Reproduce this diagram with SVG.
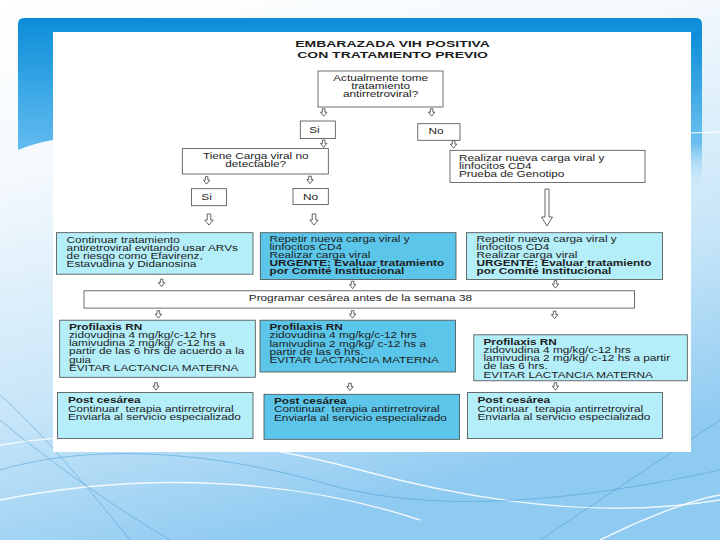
<svg xmlns="http://www.w3.org/2000/svg" width="720" height="540" viewBox="0 0 720 540">
<defs>
<linearGradient id="bg" x1="0" y1="0" x2="0.35" y2="1">
<stop offset="0" stop-color="#ffffff"/>
<stop offset="0.3" stop-color="#f4f9fd"/>
<stop offset="0.7" stop-color="#c6e5f8"/>
<stop offset="1" stop-color="#8fcaf1"/>
</linearGradient>
<linearGradient id="bl" x1="0" y1="0" x2="0" y2="1">
<stop offset="0" stop-color="#0c8dd8"/>
<stop offset="1" stop-color="#62bcf0"/>
</linearGradient>
<linearGradient id="br" x1="0" y1="0" x2="0" y2="1">
<stop offset="0" stop-color="#0c8dd8"/>
<stop offset="0.7" stop-color="#6cc0f0"/>
<stop offset="1" stop-color="#d6ecfa" stop-opacity="0"/>
</linearGradient>
<path id="sa" d="M-1.3,-3.8 h2.6 v3.4 h1.9 l-3.2,4 l-3.2,-4 h1.9 z"/>
<path id="ma" d="M-1.8,-5.5 h3.6 v6 h2.4 l-4.2,5 l-4.2,-5 h2.4 z"/>
</defs>
<style>
.t{font-family:"Liberation Sans",Arial,sans-serif;font-size:8.8px;fill:#1c1c1c}
.ti{font-size:9.5px;font-weight:bold}
.b{font-weight:bold}
.m{text-anchor:middle}
.box{stroke:#4a4a4a;stroke-width:0.8}
.w{fill:#ffffff}
.lc{fill:#b4eef9}
.dc{fill:#5cc6ea}
.ar{fill:#ffffff;stroke:#333333;stroke-width:0.75}
.cv{fill:none;stroke:#ffffff;stroke-width:1.4;opacity:0.85}
.cb{fill:none;stroke:#4a9fd6;stroke-width:0.9;opacity:0.6}
</style>
<g id="background">
<rect x="0" y="0" width="720" height="540" fill="url(#bg)"/>
<path class="cb" d="M0,395 C40,430 90,490 130,540"/>
<path class="cv" d="M0,445 C120,425 250,440 360,470 C470,500 600,520 720,500"/>
<path class="cb" d="M0,470 C100,440 230,455 330,485 C430,512 560,505 720,470"/>
<path class="cv" d="M0,500 C150,470 300,480 420,520"/>
<path class="cb" d="M540,540 C600,500 660,460 720,420"/>
<path class="cv" d="M600,540 C640,520 690,500 720,495"/>
<path class="cb" d="M0,420 C60,470 120,510 170,540"/>
<path d="M24,18 H696 Q702,18 702,24 V32 H53 V140 Q35,143 18,150 V24 Q18,18 24,18 Z" fill="url(#bl)"/>
<rect x="691" y="32" width="11" height="160" fill="url(#br)"/>
<line x1="690" y1="133" x2="720" y2="132" stroke="#ffffff" stroke-width="1"/>
<rect x="53" y="32" width="638" height="420" fill="#ffffff"/>
</g>
<g id="title">
<g transform="translate(392.6,0) scale(1.47,1)">
<text class="t ti m" x="0" y="47.4">EMBARAZADA VIH POSITIVA</text>
<text class="t ti m" x="0" y="58">CON TRATAMIENTO PREVIO</text>
</g>
</g>
<g id="connectors">
<use href="#sa" class="ar" x="323.7" y="112.6"/>
<use href="#sa" class="ar" x="431.6" y="112.6"/>
<use href="#sa" class="ar" x="323.7" y="143.8"/>
<use href="#sa" class="ar" x="453.6" y="144.5"/>
<use href="#sa" class="ar" x="206.6" y="180.5"/>
<use href="#sa" class="ar" x="310" y="180"/>
<use href="#ma" class="ar" x="209" y="219.5"/>
<use href="#ma" class="ar" x="314" y="219.5"/>
<path class="ar" d="M545,189 h4 v28 h3.5 l-5.5,9 l-5.5,-9 h3.5 z"/>
<use href="#sa" class="ar" x="161.6" y="283"/>
<use href="#sa" class="ar" x="352.6" y="285"/>
<use href="#sa" class="ar" x="555.5" y="284.5"/>
<use href="#sa" class="ar" x="158.4" y="314.5"/>
<use href="#sa" class="ar" x="352.6" y="314.5"/>
<use href="#sa" class="ar" x="554.6" y="315"/>
<use href="#sa" class="ar" x="156" y="386.5"/>
<use href="#sa" class="ar" x="350" y="387"/>
<use href="#sa" class="ar" x="555.5" y="386.5"/>
</g>
<g id="q1">
<rect class="box w" x="318" y="71" width="125" height="36"/>
<g transform="translate(380.6,0) scale(1.34,1)">
<text class="t m" x="0" y="81">Actualmente tome</text>
<text class="t m" x="0" y="89.3">tratamiento</text>
<text class="t m" x="0" y="97.5">antirretroviral?</text>
</g>
</g>
<g id="si1">
<rect class="box w" x="300.3" y="121" width="35" height="17.6"/>
<g transform="translate(314.5,0) scale(1.34,1)"><text class="t m" x="0" y="132.6">Si</text></g>
</g>
<g id="no1">
<rect class="box w" x="417.8" y="123.7" width="42.2" height="16.6"/>
<g transform="translate(436,0) scale(1.34,1)"><text class="t m" x="0" y="134.5">No</text></g>
</g>
<g id="q2">
<rect class="box w" x="182.3" y="148.6" width="146" height="25.4"/>
<g transform="translate(255.7,0) scale(1.34,1)">
<text class="t m" x="0" y="158.6">Tiene Carga viral no</text>
<text class="t m" x="0" y="166.9">detectable?</text>
</g>
</g>
<g id="genotipo">
<rect class="box w" x="450" y="150.3" width="195" height="32.2"/>
<g transform="translate(459,0) scale(1.34,1)">
<text class="t" x="0" y="160.6">Realizar nueva carga viral y</text>
<text class="t" x="0" y="168.8">linfocitos CD4</text>
<text class="t" x="0" y="177">Prueba de Genotipo</text>
</g>
</g>
<g id="si2">
<rect class="box w" x="191.5" y="188.7" width="35" height="17"/>
<g transform="translate(206.6,0) scale(1.34,1)"><text class="t m" x="0" y="200.3">Si</text></g>
</g>
<g id="no2">
<rect class="box w" x="293" y="188.4" width="35.3" height="16"/>
<g transform="translate(310.5,0) scale(1.34,1)"><text class="t m" x="0" y="199.6">No</text></g>
</g>
<g id="continuar">
<rect class="box lc" x="56.5" y="232.7" width="196.5" height="41.5"/>
<g transform="translate(66.6,0) scale(1.34,1)">
<text class="t" x="0" y="242.6">Continuar tratamiento</text>
<text class="t" x="0" y="250.7">antiretroviral evitando usar ARVs</text>
<text class="t" x="0" y="258.9">de riesgo como Efavirenz,</text>
<text class="t" x="0" y="267">Estavudina y Didanosina</text>
</g>
</g>
<g id="repetir1">
<rect class="box dc" x="260.3" y="232.7" width="195.7" height="46.7"/>
<g transform="translate(269.5,0) scale(1.34,1)">
<text class="t" x="0" y="241.8">Repetir nueva carga viral y</text>
<text class="t" x="0" y="250">linfocitos CD4</text>
<text class="t" x="0" y="258.1">Realizar carga viral</text>
<text class="t b" x="0" y="266.3">URGENTE: Evaluar tratamiento</text>
<text class="t b" x="0" y="274.4">por Comité Institucional</text>
</g>
</g>
<g id="repetir2">
<rect class="box lc" x="466.5" y="232.7" width="196" height="46.7"/>
<g transform="translate(476.6,0) scale(1.34,1)">
<text class="t" x="0" y="241.8">Repetir nueva carga viral y</text>
<text class="t" x="0" y="250">linfocitos CD4</text>
<text class="t" x="0" y="258.1">Realizar carga viral</text>
<text class="t b" x="0" y="266.3">URGENTE: Evaluar tratamiento</text>
<text class="t b" x="0" y="274.4">por Comité Institucional</text>
</g>
</g>
<g id="programar">
<rect class="box w" x="84" y="290.8" width="550.5" height="17.3"/>
<g transform="translate(360.4,0) scale(1.34,1)"><text class="t m" x="0" y="300.6">Programar cesárea antes de la semana 38</text></g>
</g>
<g id="profilaxis1">
<rect class="box lc" x="59.7" y="320.2" width="195.6" height="57.1"/>
<g transform="translate(68.9,0) scale(1.34,1)">
<text class="t b" x="0" y="330.2">Profilaxis RN</text>
<text class="t" x="0" y="338.3">zidovudina 4 mg/kg/c-12 hrs</text>
<text class="t" x="0" y="346.4">lamivudina 2 mg/kg/ c-12 hs a</text>
<text class="t" x="0" y="354.5">partir de las 6 hrs de acuerdo a la</text>
<text class="t" x="0" y="362.6">guia</text>
<text class="t" x="0" y="370.7">EVITAR LACTANCIA MATERNA</text>
</g>
</g>
<g id="profilaxis2">
<rect class="box dc" x="260" y="320.2" width="195.5" height="51.8"/>
<g transform="translate(269.5,0) scale(1.34,1)">
<text class="t b" x="0" y="330.2">Profilaxis RN</text>
<text class="t" x="0" y="338.4">zidovudina 4 mg/kg/c-12 hrs</text>
<text class="t" x="0" y="346.6">lamivudina 2 mg/kg/ c-12 hs a</text>
<text class="t" x="0" y="354.7">partir de las 6 hrs.</text>
<text class="t" x="0" y="362.8">EVITAR LACTANCIA MATERNA</text>
</g>
</g>
<g id="profilaxis3">
<rect class="box lc" x="473.8" y="334.8" width="213.5" height="46"/>
<g transform="translate(483.5,0) scale(1.34,1)">
<text class="t b" x="0" y="345">Profilaxis RN</text>
<text class="t" x="0" y="353.2">zidovudina 4 mg/kg/c-12 hrs</text>
<text class="t" x="0" y="361.4">lamivudina 2 mg/kg/ c-12 hs a partir</text>
<text class="t" x="0" y="369.5">de las 6 hrs.</text>
<text class="t" x="0" y="377.6">EVITAR LACTANCIA MATERNA</text>
</g>
</g>
<g id="post1">
<rect class="box lc" x="57.4" y="392.6" width="195.6" height="46"/>
<g transform="translate(68,0) scale(1.34,1)">
<text class="t b" x="0" y="403.5">Post cesárea</text>
<text class="t" x="0" y="411.8" xml:space="preserve">Continuar  terapia antirretroviral</text>
<text class="t" x="0" y="420.1">Enviarla al servicio especializado</text>
</g>
</g>
<g id="post2">
<rect class="box dc" x="264" y="394.3" width="195.6" height="45"/>
<g transform="translate(274,0) scale(1.34,1)">
<text class="t b" x="0" y="404.2">Post cesárea</text>
<text class="t" x="0" y="412.5" xml:space="preserve">Continuar  terapia antirretroviral</text>
<text class="t" x="0" y="420.8">Enviarla al servicio especializado</text>
</g>
</g>
<g id="post3">
<rect class="box lc" x="467.4" y="392.6" width="195.1" height="46"/>
<g transform="translate(477.5,0) scale(1.34,1)">
<text class="t b" x="0" y="403.5">Post cesárea</text>
<text class="t" x="0" y="411.8" xml:space="preserve">Continuar  terapia antirretroviral</text>
<text class="t" x="0" y="420.1">Enviarla al servicio especializado</text>
</g>
</g>
</svg>
